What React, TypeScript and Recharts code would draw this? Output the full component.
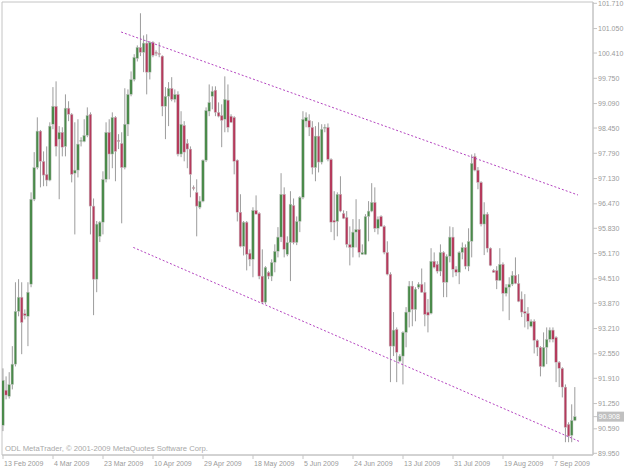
import React from 'react';
import { ComposedChart, Bar, XAxis, YAxis, ReferenceLine, ReferenceArea } from 'recharts';

// daily bars, 13 Feb 2009 .. mid Sep 2009 (Sunday bars included)
const opens = [
  90.68, 91.60, 91.44, 91.75, 92.28, 93.66, 94.03, 93.60, 93.53, 94.37,
  96.59, 97.42, 98.37, 97.58, 97.24, 97.09, 98.55, 99.02, 98.16, 98.34,
  97.97, 98.97, 98.81, 97.27, 97.35, 98.10, 98.10, 98.26, 98.81, 96.41,
  94.50, 95.62, 95.99, 97.11, 98.34, 97.77, 98.73, 98.13, 98.05, 97.42,
  98.55, 99.33, 99.72, 100.27, 100.56, 100.43, 100.67, 99.91, 100.69, 100.43,
  100.40, 100.33, 99.02, 99.28, 99.49, 99.20, 99.33, 97.77, 98.52, 98.05,
  97.90, 96.90, 96.77, 96.38, 96.54, 97.61, 98.89, 99.28, 99.44, 98.86,
  98.78, 98.68, 99.18, 98.76, 98.73, 97.61, 96.25, 95.36, 95.99, 95.18,
  95.02, 96.30, 96.22, 94.58, 93.90, 94.68, 94.58, 94.94, 95.23, 95.60,
  96.72, 95.15, 95.46, 96.43, 95.46, 96.01, 96.64, 98.63, 98.65, 98.47,
  97.42, 98.24, 97.56, 98.46, 98.47, 97.63, 96.04, 96.01, 96.72, 96.22,
  96.12, 95.41, 95.33, 95.73, 95.80, 95.15, 95.15, 96.14, 96.28, 96.51,
  95.83, 96.14, 95.88, 95.20, 94.63, 92.75, 93.19, 92.36, 92.49, 93.11,
  93.64, 94.32, 93.71, 94.29, 94.37, 94.16, 93.64, 93.61, 94.97, 94.89,
  94.71, 95.20, 94.42, 95.10, 95.60, 94.76, 94.68, 95.20, 95.33, 94.84,
  95.49, 97.71, 97.35, 97.03, 95.94, 96.20, 95.31, 94.73, 94.73, 94.47,
  94.89, 94.13, 94.29, 94.37, 94.60, 94.39, 93.98, 93.66, 93.61, 93.27,
  93.40, 92.90, 92.72, 92.22, 92.72, 92.93, 93.17, 92.98, 92.33, 92.17,
  91.68, 90.71, 90.42, 90.81,
];
const highs = [
  92.17, 91.96, 92.07, 92.75, 94.42, 94.50, 94.42, 93.71, 94.42, 96.77,
  97.82, 98.73, 98.40, 97.84, 97.97, 98.60, 99.52, 99.67, 98.50, 98.47,
  99.33, 99.15, 98.84, 98.60, 98.68, 98.21, 98.68, 98.99, 98.86, 96.61,
  96.02, 96.02, 97.32, 98.60, 98.68, 98.86, 98.76, 98.29, 98.34, 99.49,
  99.46, 99.93, 100.38, 100.61, 101.45, 100.87, 100.90, 100.72, 100.72, 100.48,
  100.69, 100.35, 99.52, 99.65, 99.78, 99.46, 99.41, 98.89, 98.63, 98.16,
  97.97, 96.95, 97.11, 96.67, 97.63, 98.99, 99.59, 99.54, 99.54, 99.12,
  99.07, 99.80, 99.59, 98.81, 98.76, 97.63, 96.72, 96.02, 96.02, 95.28,
  96.38, 96.69, 96.25, 95.28, 94.84, 94.71, 95.02, 95.41, 95.86, 97.27,
  96.90, 95.62, 96.80, 96.61, 96.14, 96.67, 98.89, 98.86, 98.81, 98.63,
  98.50, 98.60, 98.55, 98.55, 98.57, 97.66, 96.80, 96.77, 97.19, 96.30,
  96.28, 95.88, 96.07, 96.59, 96.07, 95.41, 96.20, 96.54, 97.01, 96.90,
  96.14, 96.17, 95.91, 95.49, 94.68, 93.64, 93.24, 92.54, 93.14, 93.77,
  94.45, 94.45, 94.29, 94.42, 94.78, 94.42, 93.98, 95.31, 95.20, 94.97,
  95.41, 95.23, 95.15, 95.88, 95.86, 94.84, 95.23, 95.46, 95.41, 95.83,
  97.76, 97.79, 97.43, 97.06, 96.51, 96.25, 95.33, 94.76, 94.84, 95.31,
  94.94, 94.37, 94.55, 94.71, 95.07, 94.63, 94.18, 94.11, 93.77, 93.45,
  93.45, 92.93, 92.75, 93.11, 93.24, 93.24, 93.24, 93.01, 92.36, 92.20,
  91.75, 90.76, 91.23, 91.68,
];
const lows = [
  90.53, 91.36, 91.38, 91.62, 92.22, 93.53, 92.54, 93.45, 92.75, 94.29,
  96.54, 97.37, 96.90, 96.93, 96.93, 97.06, 98.42, 97.71, 96.59, 97.71,
  97.71, 98.63, 97.03, 95.67, 97.16, 97.97, 98.08, 98.21, 95.67, 93.56,
  94.16, 95.47, 95.67, 97.03, 97.11, 97.40, 97.06, 97.90, 95.96, 97.37,
  98.24, 99.28, 99.67, 100.19, 100.33, 99.91, 99.33, 99.72, 100.30, 100.33,
  100.30, 98.76, 98.16, 98.50, 99.15, 99.12, 97.71, 97.69, 97.58, 97.40,
  96.64, 96.82, 95.62, 96.33, 96.51, 97.56, 98.76, 98.94, 98.76, 98.73,
  97.95, 98.34, 98.34, 98.58, 97.24, 96.01, 95.33, 95.12, 94.73, 94.84,
  94.55, 96.20, 94.50, 93.85, 93.85, 94.50, 94.45, 94.68, 95.07, 95.47,
  95.07, 95.10, 94.45, 95.41, 95.39, 95.73, 96.59, 98.47, 98.24, 97.24,
  97.06, 97.29, 97.50, 98.34, 97.58, 95.73, 95.52, 95.62, 96.25, 96.07,
  95.33, 94.86, 95.07, 95.33, 95.07, 95.14, 95.13, 95.49, 96.25, 95.73,
  95.67, 95.87, 95.15, 94.60, 91.81, 92.49, 91.81, 92.33, 91.75, 92.72,
  93.24, 93.27, 93.40, 94.24, 94.14, 93.27, 93.11, 93.58, 94.78, 94.65,
  94.58, 94.03, 94.03, 94.94, 94.55, 94.58, 94.37, 95.02, 94.76, 94.71,
  95.07, 97.32, 96.85, 95.88, 95.13, 95.20, 94.84, 94.67, 94.24, 94.45,
  93.66, 94.05, 93.43, 94.32, 94.37, 93.90, 93.51, 93.24, 93.19, 93.24,
  92.56, 92.49, 91.96, 92.20, 92.28, 92.85, 92.85, 91.81, 91.68, 91.41,
  90.24, 90.24, 90.24, 90.79,
];
const closes = [
  91.86, 91.47, 91.75, 92.28, 93.66, 94.03, 93.37, 93.55, 94.16, 96.59,
  97.42, 98.37, 97.58, 97.22, 97.09, 98.50, 99.02, 97.97, 98.34, 97.95,
  98.97, 98.81, 97.24, 97.35, 98.03, 98.13, 98.26, 98.78, 96.41, 94.50,
  95.94, 95.99, 97.11, 98.34, 97.77, 98.73, 97.84, 98.10, 97.42, 98.55,
  99.33, 99.72, 100.30, 100.56, 100.43, 100.67, 99.91, 100.69, 100.35, 100.40,
  100.38, 99.02, 99.28, 99.49, 99.20, 99.33, 97.77, 98.55, 97.82, 97.90,
  97.24, 96.87, 96.41, 96.54, 97.61, 98.91, 99.12, 99.41, 98.86, 98.76,
  98.65, 99.20, 98.47, 98.60, 97.58, 96.25, 95.36, 95.99, 95.15, 95.02,
  96.30, 96.20, 94.58, 93.90, 94.81, 94.58, 94.94, 95.23, 95.60, 96.72,
  95.28, 95.46, 96.46, 95.46, 96.01, 96.64, 98.68, 98.73, 98.47, 97.42,
  98.24, 97.56, 98.42, 98.47, 97.63, 95.99, 95.99, 96.72, 96.28, 96.09,
  95.41, 95.33, 95.73, 95.80, 95.20, 95.20, 96.14, 96.28, 96.51, 95.83,
  96.07, 95.88, 95.20, 94.63, 92.75, 93.17, 92.59, 92.49, 93.11, 93.64,
  94.32, 93.71, 94.24, 94.37, 94.16, 93.58, 93.56, 94.97, 94.81, 94.71,
  95.20, 94.42, 95.10, 95.60, 94.76, 94.68, 95.20, 95.33, 94.84, 95.49,
  97.53, 97.35, 97.03, 95.94, 96.20, 95.31, 94.86, 94.68, 94.47, 94.89,
  94.13, 94.29, 94.37, 94.60, 94.39, 93.92, 93.64, 93.61, 93.40, 93.40,
  92.90, 92.72, 92.22, 92.72, 92.93, 93.17, 92.93, 92.33, 92.17, 91.68,
  90.63, 90.40, 90.81, 90.908,
];

const dateTicks = [0, 16, 32, 48, 64, 80, 96, 112, 128, 144, 160, 176];
const dateLabels = [
  '13 Feb 2009', '4 Mar 2009', '23 Mar 2009', '10 Apr 2009', '29 Apr 2009', '18 May 2009',
  '5 Jun 2009', '24 Jun 2009', '13 Jul 2009', '31 Jul 2009', '19 Aug 2009', '7 Sep 2009',
];
const priceTicks = [
  101.71, 101.05, 100.41, 99.75, 99.09, 98.45, 97.79, 97.13, 96.47, 95.83,
  95.17, 94.51, 93.87, 93.21, 92.55, 91.91, 91.25, 90.59, 89.95,
];
const lastPrice = 90.908;

// channel lines (bar index, price)
const upperTrend = [{ x: 37.8, y: 100.96 }, { x: 184, y: 96.7 }];
const lowerTrend = [{ x: 41.7, y: 95.33 }, { x: 184.7, y: 90.25 }];

const X_DOMAIN: [number, number] = [-0.32, 188.8];
const Y_DOMAIN: [number, number] = [89.9056, 101.744];

const GREEN = '#4a8a4a';
const RED = '#b53a5c';
const AXIS = '#c4c4c4';
const TEXT = '#9a9a9a';
const TREND = '#b444c0';
const FONT = '"Liberation Sans", Arial, sans-serif';

const data = opens.map((o, i) => ({
  i,
  o,
  h: highs[i],
  l: lows[i],
  c: closes[i],
  range: [lows[i], highs[i]],
}));

const Candle = (props: any) => {
  const { x, y, width, height, payload } = props;
  if (x == null || payload == null) return null;
  const { o, h, l, c } = payload;
  const top = Math.min(y, y + height);
  const span = Math.abs(height);
  const py = (v: number) => top + ((h - v) / (h - l || 1)) * span;
  const cx = x + width / 2;
  const yTop = py(Math.max(o, c));
  const yBot = py(Math.min(o, c));
  const bh = Math.max(1, yBot - yTop);
  return (
    <g>
      <line x1={cx} x2={cx} y1={top} y2={top + span} stroke="#9c9c9c" strokeWidth={1} />
      <rect
        x={cx - 1.3}
        y={yTop}
        width={2.6}
        height={bh}
        fill={c >= o ? GREEN : RED}
        stroke="#c8c8c8"
        strokeWidth={0.5}
      />
    </g>
  );
};

const PriceTick = (props: any) => {
  const { x, y, payload } = props;
  const v = payload.value;
  if (v === lastPrice) {
    return (
      <g>
        <rect x={x - 1} y={y - 5} width={27} height={10} fill="#c0c0c0" />
        <text x={x + 0.5} y={y + 2.5} fill="#ffffff" fontSize={7} fontFamily={FONT}>
          {v.toFixed(3)}
        </text>
      </g>
    );
  }
  return (
    <text x={x} y={y + 2.5} fill={TEXT} fontSize={7} fontFamily={FONT}>
      {v.toFixed(3)}
    </text>
  );
};

const DateTick = (props: any) => {
  const { x, y, payload } = props;
  const idx = dateTicks.indexOf(payload.value);
  return (
    <text x={x + 1} y={y + 6.5} fill={TEXT} fontSize={7} fontFamily={FONT}>
      {dateLabels[idx]}
    </text>
  );
};

export default function App() {
  return (
    <div style={{ position: 'absolute', left: 0, top: 0, width: 625, height: 469, background: '#ffffff' }}>
      <ComposedChart width={625} height={469} data={data} margin={{ top: 2, right: 0, bottom: 0, left: 2 }}>
        <ReferenceArea
          x1={X_DOMAIN[0]}
          x2={X_DOMAIN[1]}
          y1={Y_DOMAIN[0]}
          y2={Y_DOMAIN[1]}
          fill="none"
          stroke={AXIS}
          strokeOpacity={1}
          ifOverflow="visible"
        />
        <XAxis
          dataKey="i"
          type="number"
          domain={X_DOMAIN}
          ticks={dateTicks}
          allowDataOverflow
          interval={0}
          height={14}
          tickSize={4}
          tickMargin={0}
          axisLine={{ stroke: AXIS }}
          tickLine={{ stroke: AXIS }}
          tick={<DateTick />}
        />
        <YAxis
          orientation="right"
          type="number"
          domain={Y_DOMAIN}
          ticks={[...priceTicks, lastPrice]}
          allowDataOverflow
          interval={0}
          width={32}
          tickSize={4}
          tickMargin={1}
          axisLine={{ stroke: AXIS }}
          tickLine={{ stroke: AXIS }}
          tick={<PriceTick />}
        />
        <Bar dataKey="range" barSize={3} isAnimationActive={false} shape={(p: any) => <Candle {...p} />} />
        <ReferenceLine segment={upperTrend} stroke={TREND} strokeDasharray="2 2" ifOverflow="visible" />
        <ReferenceLine segment={lowerTrend} stroke={TREND} strokeDasharray="2 2" ifOverflow="visible" />
      </ComposedChart>
      <div
        style={{
          position: 'absolute',
          left: 5,
          top: 445,
          fontSize: '7.7px',
          lineHeight: '8px',
          fontFamily: FONT,
          color: '#a8a8a8',
          whiteSpace: 'nowrap',
        }}
      >
        ODL MetaTrader, © 2001-2009 MetaQuotes Software Corp.
      </div>
    </div>
  );
}
